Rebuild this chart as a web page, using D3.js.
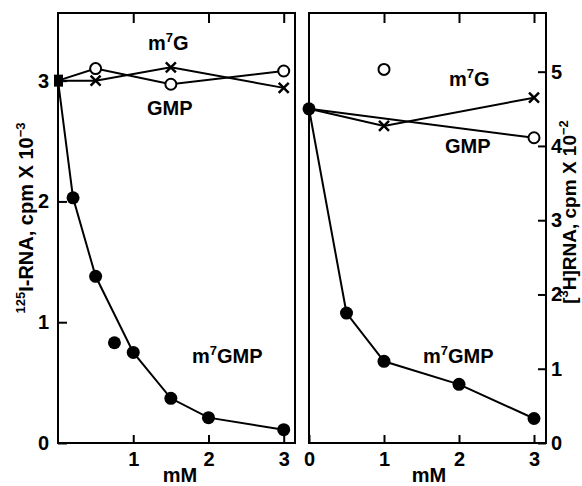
<!DOCTYPE html>
<html>
<head>
<meta charset="utf-8">
<script src="https://cdn.jsdelivr.net/npm/d3@7"></script>
<style>
  body { margin: 0; background: #fff; }
  svg { display: block; font-family: "Liberation Sans", Arial, sans-serif; font-weight: bold; }
</style>
</head>
<body>
<svg id="chart" width="582" height="486"></svg>
<script>
// ---- Data ----
// Left panel: 125I-RNA, cpm x 10^-3
const leftM7gmpX = [0, 0.2, 0.5, 1.0, 1.5, 2.0, 3.0];
const leftM7gmpY = [3.0, 2.03, 1.38, 0.75, 0.37, 0.21, 0.11];
const leftExtraX = [0.75];          // unconnected m7GMP point
const leftExtraY = [0.83];
const leftM7gX = [0, 0.5, 1.5, 3.0];
const leftM7gY = [3.0, 3.10, 2.97, 3.08];
const leftGmpX = [0, 0.5, 1.5, 3.0];
const leftGmpY = [3.0, 3.00, 3.11, 2.94];
const leftYTicks = [0, 1, 2, 3];
const leftXTicks = [1, 2, 3];

// Right panel: [3H]RNA, cpm x 10^-2
const rightStartX = [0];
const rightStartY = [4.5];
const rightM7gmpX = [0, 0.5, 1, 2, 3];
const rightM7gmpY = [4.5, 1.75, 1.10, 0.79, 0.33];
const rightM7gX = [1, 3];            // open circles
const rightM7gY = [5.03, 4.11];
const rightM7gLineX = [0, 3];
const rightM7gLineY = [4.5, 4.11];
const rightGmpX = [0, 1, 3];
const rightGmpY = [4.5, 4.27, 4.65];
const rightYTicks = [0, 1, 2, 3, 4, 5];
const rightXTicks = [0, 1, 2, 3];

const svg = d3.select("#chart");
const FS = 20;

function zip(xs, ys) { return xs.map((x, i) => [x, ys[i]]); }

function panel(cfg) {
  const g = svg.append("g");
  const x = d3.scaleLinear().domain(cfg.xDomain).range([cfg.left, cfg.right]);
  const y = d3.scaleLinear().domain(cfg.yDomain).range([cfg.bottom, cfg.top]);

  g.append("rect").attr("x", cfg.left).attr("y", cfg.top)
    .attr("width", cfg.right - cfg.left).attr("height", cfg.bottom - cfg.top)
    .attr("fill", "none").attr("stroke", "#000").attr("stroke-width", 2);

  const xb = g.append("g").attr("transform", `translate(0,${cfg.bottom})`)
    .call(d3.axisBottom(x).tickValues(cfg.xTicks).tickSize(-8).tickPadding(9).tickFormat(d3.format("d")));
  const xt = g.append("g").attr("transform", `translate(0,${cfg.top})`)
    .call(d3.axisTop(x).tickValues([1, 2, 3]).tickSize(-10).tickFormat(""));
  let ya;
  if (cfg.yRight) {
    ya = g.append("g").attr("transform", `translate(${cfg.right},0)`)
      .call(d3.axisRight(y).tickValues(cfg.yTicks).tickSize(-8).tickPadding(5).tickFormat(d3.format("d")));
  } else {
    ya = g.append("g").attr("transform", `translate(${cfg.left},0)`)
      .call(d3.axisLeft(y).tickValues(cfg.yTicks).tickSize(-9).tickPadding(9).tickFormat(d3.format("d")));
  }
  [xb, xt, ya].forEach(a => {
    a.select(".domain").remove();
    a.selectAll("line").attr("stroke", "#000").attr("stroke-width", 2);
    a.selectAll("text").attr("font-size", FS).attr("font-family", "Liberation Sans, Arial, sans-serif")
      .attr("font-weight", "bold").attr("fill", "#000");
  });
  return { g, x, y };
}

const L = panel({ left: 58, right: 295, top: 13, bottom: 443,
  xDomain: [0, 3.15], yDomain: [0, 3.56], xTicks: leftXTicks, yTicks: leftYTicks, yRight: false });
const R = panel({ left: 309, right: 546, top: 13, bottom: 443,
  xDomain: [0, 3.16], yDomain: [0, 5.79], xTicks: rightXTicks, yTicks: rightYTicks, yRight: true });

function drawLine(P, xs, ys) {
  const line = d3.line().x(d => P.x(d[0])).y(d => P.y(d[1]));
  P.g.append("path").attr("d", line(zip(xs, ys)))
    .attr("fill", "none").attr("stroke", "#000").attr("stroke-width", 2);
}
function filled(P, xs, ys, r) {
  P.g.selectAll(null).data(zip(xs, ys)).enter().append("circle")
    .attr("cx", d => P.x(d[0])).attr("cy", d => P.y(d[1])).attr("r", r).attr("fill", "#000");
}
function open(P, xs, ys, r) {
  P.g.selectAll(null).data(zip(xs, ys)).enter().append("circle")
    .attr("cx", d => P.x(d[0])).attr("cy", d => P.y(d[1])).attr("r", r)
    .attr("fill", "#fff").attr("stroke", "#000").attr("stroke-width", 2);
}
function crosses(P, xs, ys, s) {
  P.g.selectAll(null).data(zip(xs, ys)).enter().append("path")
    .attr("transform", d => `translate(${P.x(d[0])},${P.y(d[1])})`)
    .attr("d", `M${-s},${-s}L${s},${s}M${-s},${s}L${s},${-s}`)
    .attr("stroke", "#000").attr("stroke-width", 2.5).attr("fill", "none");
}

// ---- Left panel ----
drawLine(L, leftM7gmpX, leftM7gmpY);
drawLine(L, leftM7gX, leftM7gY);
drawLine(L, leftGmpX, leftGmpY);
filled(L, leftM7gmpX.slice(1), leftM7gmpY.slice(1), 6.5);
filled(L, leftExtraX, leftExtraY, 6.5);
open(L, leftM7gX.slice(1), leftM7gY.slice(1), 5.5);
crosses(L, leftGmpX.slice(1), leftGmpY.slice(1), 5);
L.g.append("rect").attr("x", L.x(leftM7gmpX[0]) - 4).attr("y", L.y(leftM7gmpY[0]) - 6)
  .attr("width", 9).attr("height", 12).attr("fill", "#000");

// ---- Right panel ----
drawLine(R, rightM7gmpX, rightM7gmpY);
drawLine(R, rightM7gLineX, rightM7gLineY);
drawLine(R, rightGmpX, rightGmpY);
filled(R, rightM7gmpX.slice(1), rightM7gmpY.slice(1), 6.5);
filled(R, rightStartX, rightStartY, 6.5);
open(R, rightM7gX, rightM7gY, 5.5);
crosses(R, rightGmpX.slice(1), rightGmpY.slice(1), 5);

// ---- Text labels ----
function label(x, y, parts, anchor) {
  const t = svg.append("text").attr("x", x).attr("y", y).attr("font-size", FS)
    .attr("text-anchor", anchor || "start").attr("fill", "#000");
  parts.forEach(p => {
    const ts = t.append("tspan").text(p.t);
    if (p.sup) ts.attr("font-size", 13).attr("baseline-shift", "60%");
  });
  return t;
}
label(148, 50, [{ t: "m" }, { t: "7", sup: true }, { t: "G" }]);
label(147, 115, [{ t: "GMP" }]);
label(192, 363, [{ t: "m" }, { t: "7", sup: true }, { t: "GMP" }]);
label(449, 86, [{ t: "m" }, { t: "7", sup: true }, { t: "G" }]);
label(445, 153, [{ t: "GMP" }]);
label(423, 363, [{ t: "m" }, { t: "7", sup: true }, { t: "GMP" }]);

label(180, 482, [{ t: "mM" }], "middle");
label(429, 482, [{ t: "mM" }], "middle");

// axis titles
label(0, 0, [{ t: "125", sup: true }, { t: "I-RNA, cpm X 10" }, { t: "−3", sup: true }], "middle")
  .attr("transform", "translate(33,218) rotate(-90)");
label(0, 0, [{ t: "[" }, { t: "3", sup: true }, { t: "H]RNA, cpm X 10" }, { t: "−2", sup: true }], "middle")
  .attr("font-size", 19)
  .attr("transform", "translate(576,212) rotate(-90)");
</script>
</body>
</html>
